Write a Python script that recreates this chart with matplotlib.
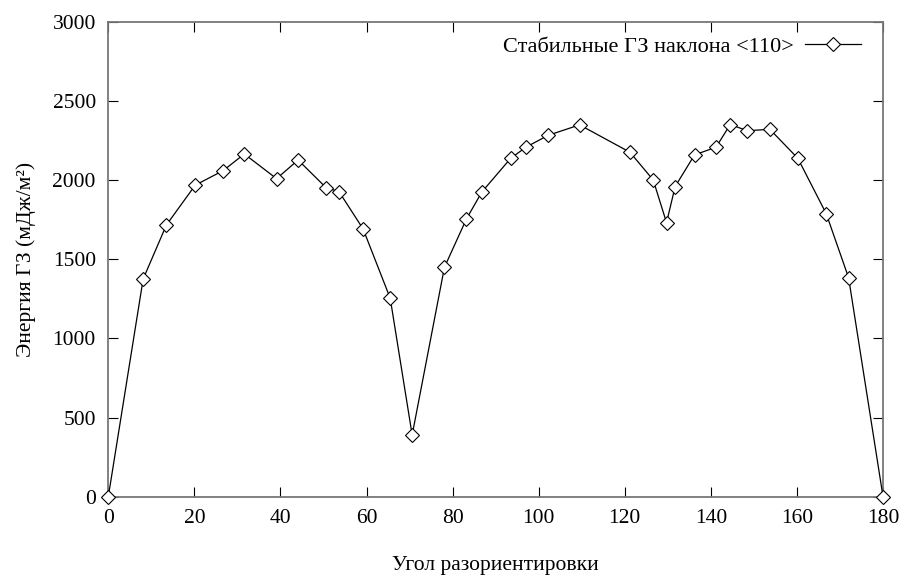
import matplotlib.pyplot as plt
import numpy as np

plt.rcParams['font.family'] = ['Liberation Serif', 'DejaVu Serif']

# misorientation angle (deg) and GB energy (mJ/m^2)
angle = [0, 8.1, 13.5, 20.2, 26.7, 31.6, 39.1, 44.1, 50.6, 53.6, 59.2, 65.5, 70.6,
         78.1, 83.2, 86.8, 93.5, 97.1, 102.2, 109.5, 121.2, 126.6, 129.7, 131.7,
         136.2, 141.2, 144.5, 148.5, 153.7, 160.2, 166.8, 172.0, 180]
energy = [0, 1376, 1717, 1969, 2061, 2166, 2010, 2128, 1953, 1928, 1692, 1254, 390,
          1450, 1755, 1926, 2139, 2210, 2284, 2350, 2177, 2002, 1732, 1960,
          2160, 2209, 2352, 2313, 2322, 2139, 1789, 1384, 0]

label = "Стабильные ГЗ наклона <110>"
xticks = list(range(0, 181, 20))
yticks = list(range(0, 3001, 500))

fig = plt.figure(figsize=(9.04, 5.75), dpi=100)
ax = fig.add_axes([0.1198, 0.1362, 0.857, 0.8255])

ax.plot(angle, energy, color='black', lw=0.9, marker='D', ms=6.8,
        mfc='white', mec='black', mew=0.8, label=label, clip_on=False, zorder=3)

ax.set_xlim(0, 180)
ax.set_ylim(0, 3000)
ax.set_xticks(xticks)
ax.set_yticks(yticks)
ax.tick_params(direction='in', length=7, width=0.8, top=True, right=True,
               labelsize=15.5, pad=9)
for s in ax.spines.values():
    s.set_color('#777777')
    s.set_linewidth(1.3)

ax.set_xlabel("Угол разориентировки", fontsize=15.5, labelpad=20)
ax.set_ylabel("Энергия ГЗ (мДж/м²)", fontsize=15.5, labelpad=12)

ax.legend(loc='upper right', bbox_to_anchor=(1.0, 1.017), frameon=False,
          markerfirst=False, fontsize=16, handlelength=2.5,
          borderaxespad=0.6, handletextpad=0.5)

fig.savefig("out.png", dpi=100)
